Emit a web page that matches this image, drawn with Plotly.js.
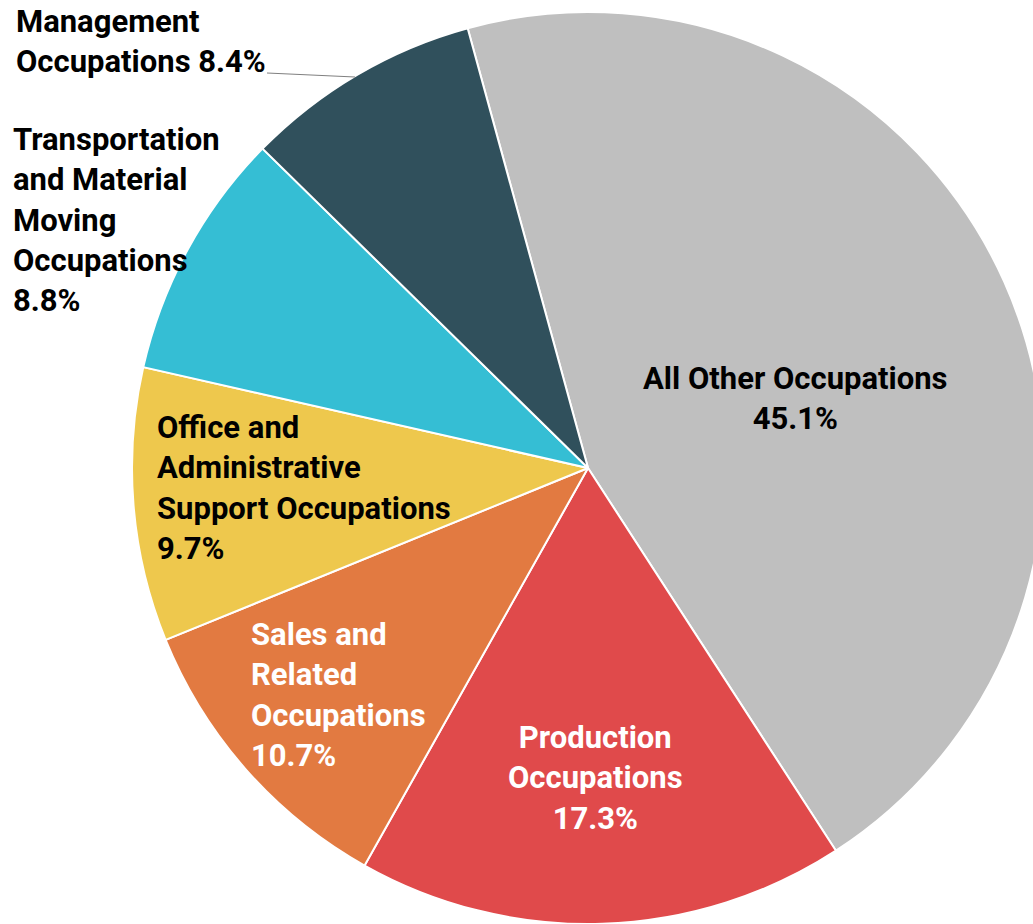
<!DOCTYPE html>
<html>
<head>
<meta charset="utf-8">
<script src="https://cdn.plot.ly/plotly-3.0.1.min.js"></script>
<style>
html,body{margin:0;padding:0;overflow:hidden;background:#fff;}
#chart{width:1100px;height:924px;}
</style>
</head>
<body>
<div id="chart"></div>
<script>
// Data
const categories = [
  "All Other Occupations",
  "Production Occupations",
  "Sales and Related Occupations",
  "Office and Administrative Support Occupations",
  "Transportation and Material Moving Occupations",
  "Management Occupations"
];
const shares = [45.1, 17.3, 10.7, 9.7, 8.8, 8.4];
const labelLines = [
  ["All Other Occupations"],
  ["Production", "Occupations"],
  ["Sales and", "Related", "Occupations"],
  ["Office and", "Administrative", "Support Occupations"],
  ["Transportation", "and Material", "Moving", "Occupations"],
  ["Management", "Occupations"]
];
const colors = ["#bfbfbf", "#e04a4b", "#e27a41", "#eec84d", "#35bed4", "#30505c"];
const textColors = ["#000", "#fff", "#fff", "#000", "#000", "#000"];

const W = 1100, H = 924;
const FONT = 'Roboto, sans-serif';

// label placement (pixels): [x, y(middle), xanchor, align, inline percent]
const place = [
  [795, 398, "center", "center", false],
  [595, 778, "center", "center", false],
  [249, 695, "left", "left", false],
  [155, 488, "left", "left", false],
  [11, 220, "left", "left", false],
  [14, 42, "left", "left", true]
];

const annotations = categories.map((c, i) => {
  const lines = labelLines[i].slice();
  const pct = shares[i].toFixed(1) + "%";
  if (place[i][4]) lines[lines.length - 1] += " " + pct; else lines.push(pct);
  return {
    xref: "paper", yref: "paper",
    x: place[i][0] / W, y: 1 - place[i][1] / H,
    xanchor: place[i][2], yanchor: "middle", align: place[i][3],
    text: lines.join("<br>"), showarrow: false,
    font: {family: FONT, size: 31, color: textColors[i], weight: "bold"}
  };
});

const data = [{
  type: "pie",
  labels: categories,
  values: shares,
  sort: false,
  direction: "clockwise",
  rotation: -15.3,
  marker: {colors: colors, line: {color: "#ffffff", width: 2}},
  textinfo: "none",
  hoverinfo: "label+percent",
  domain: {x: [132 / W, 1044 / W], y: [0, 912 / H]}
}];

const layout = {
  width: W, height: H,
  margin: {l: 0, r: 0, t: 0, b: 0},
  showlegend: false,
  paper_bgcolor: "#ffffff",
  annotations: annotations,
  shapes: [{
    type: "line", xref: "paper", yref: "paper",
    x0: 267 / W, y0: 1 - 73 / H, x1: 355 / W, y1: 1 - 77 / H,
    line: {color: "#808080", width: 1}
  }]
};

Plotly.newPlot("chart", data, layout, {staticPlot: true});
</script>
</body>
</html>
